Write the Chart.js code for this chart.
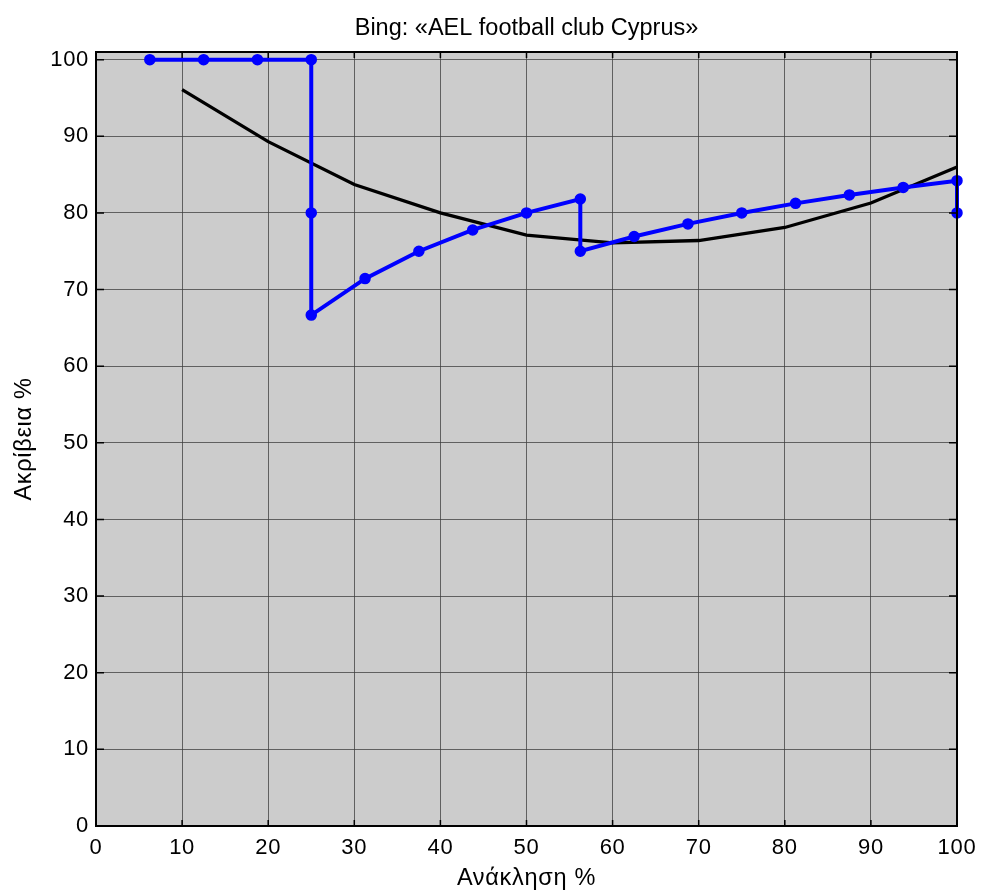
<!DOCTYPE html>
<html>
<head>
<meta charset="utf-8">
<script src="https://cdn.jsdelivr.net/npm/chart.js@4"></script>
<style>
  html, body { margin: 0; padding: 0; background: #ffffff; }
  #wrap { width: 982px; height: 895px; position: relative; }
</style>
</head>
<body>
<div id="wrap"><canvas id="c" width="982" height="895"></canvas></div>
<script>
// Recall (%) and precision (%) for each retrieved result
const recallPoints = [6.25, 12.5, 18.75, 25, 25, 25, 31.25, 37.5, 43.75, 50, 56.25, 56.25, 62.5, 68.75, 75, 81.25, 87.5, 93.75, 100, 100];
const precisionPoints = [100, 100, 100, 100, 80, 66.67, 71.43, 75, 77.78, 80, 81.82, 75, 76.92, 78.57, 80, 81.25, 82.35, 83.33, 84.21, 80];

// Averaged precision at standard recall levels
const recallLevels = [10, 20, 30, 40, 50, 60, 70, 80, 90, 100];
const avgPrecision = [96.1, 89.3, 83.7, 80.0, 77.1, 76.1, 76.4, 78.1, 81.3, 86.0];

const xTicks = [0, 10, 20, 30, 40, 50, 60, 70, 80, 90, 100];
const yTicks = [0, 10, 20, 30, 40, 50, 60, 70, 80, 90, 100];

const titleText = 'Bing: «AEL football club Cyprus»';
const xTitle = 'Ανάκληση %';
const yTitle = 'Ακρίβεια %';

const FONT = '"Liberation Sans", Arial, sans-serif';

const toXY = (xs, ys) => xs.map((x, i) => ({ x: x, y: ys[i] }));

// Gray plot background, box frame, inward tick marks and the title over the plot box
const frame = {
  id: 'frame',
  beforeDraw(chart) {
    const a = chart.chartArea, ctx = chart.ctx;
    ctx.save();
    ctx.fillStyle = '#cccccc';
    ctx.fillRect(a.left, a.top, a.right - a.left, a.bottom - a.top);
    ctx.restore();
    ctx.letterSpacing = '0.7px';
  },
  afterDatasetsDraw(chart) {
    const a = chart.chartArea, ctx = chart.ctx;
    const xs = chart.scales.x, ys = chart.scales.y;
    ctx.save();
    ctx.strokeStyle = '#000000';
    ctx.lineWidth = 1.5;
    ctx.beginPath();
    xTicks.forEach(v => {
      const px = xs.getPixelForValue(v);
      ctx.moveTo(px, a.bottom); ctx.lineTo(px, a.bottom - 6);
      ctx.moveTo(px, a.top); ctx.lineTo(px, a.top + 6);
    });
    yTicks.forEach(v => {
      const py = ys.getPixelForValue(v);
      ctx.moveTo(a.left, py); ctx.lineTo(a.left + 8, py);
      ctx.moveTo(a.right, py); ctx.lineTo(a.right - 8, py);
    });
    ctx.stroke();
    ctx.lineWidth = 2;
    ctx.strokeRect(a.left, a.top, a.right - a.left, a.bottom - a.top);

    ctx.fillStyle = '#000000';
    ctx.letterSpacing = '0px';
    ctx.font = '23.5px ' + FONT;
    ctx.textAlign = 'center';
    ctx.textBaseline = 'middle';
    ctx.fillText(titleText, (a.left + a.right) / 2, 29);
    ctx.restore();
  }
};

new Chart(document.getElementById('c'), {
  type: 'scatter',
  data: {
    datasets: [
      {
        data: toXY(recallLevels, avgPrecision),
        showLine: true,
        borderColor: '#000000',
        borderWidth: 3.3,
        pointRadius: 0,
        tension: 0,
        order: 2
      },
      {
        data: toXY(recallPoints, precisionPoints),
        showLine: true,
        borderColor: '#0000ff',
        backgroundColor: '#0000ff',
        borderWidth: 4,
        pointRadius: 5,
        pointBorderWidth: 1.5,
        pointBorderColor: '#0000ff',
        tension: 0,
        order: 1
      }
    ]
  },
  options: {
    responsive: false,
    animation: false,
    clip: false,
    layout: { padding: { left: 0, right: 25, top: 52, bottom: 0 } },
    plugins: {
      legend: { display: false },
      tooltip: { enabled: false },
      title: { display: false }
    },
    scales: {
      x: {
        type: 'linear',
        min: 0,
        max: 100,
        afterBuildTicks(scale) { scale.ticks = xTicks.map(v => ({ value: v })); },
        afterFit(scale) { scale.height = 69; scale.paddingRight = 0; scale.paddingLeft = 0; },
        grid: { color: 'rgba(60,60,60,0.75)', lineWidth: 1, drawTicks: false },
        border: { display: false },
        ticks: {
          color: '#000000',
          font: { family: FONT, size: 22 },
          padding: 9,
          maxRotation: 0
        },
        title: {
          display: true,
          text: xTitle,
          color: '#000000',
          font: { family: FONT, size: 23.5 },
          padding: { top: 2, bottom: 2 }
        }
      },
      y: {
        type: 'linear',
        min: 0,
        max: 101,
        afterBuildTicks(scale) { scale.ticks = yTicks.map(v => ({ value: v })); },
        afterFit(scale) { scale.width = 96; scale.paddingTop = 0; scale.paddingBottom = 0; },
        grid: { color: 'rgba(60,60,60,0.75)', lineWidth: 1, drawTicks: false },
        border: { display: false },
        ticks: {
          color: '#000000',
          font: { family: FONT, size: 22 },
          padding: 7
        },
        title: {
          display: true,
          text: yTitle,
          color: '#000000',
          font: { family: FONT, size: 23.5 },
          padding: { top: 10, bottom: 0 }
        }
      }
    }
  },
  plugins: [frame]
});
</script>
</body>
</html>
